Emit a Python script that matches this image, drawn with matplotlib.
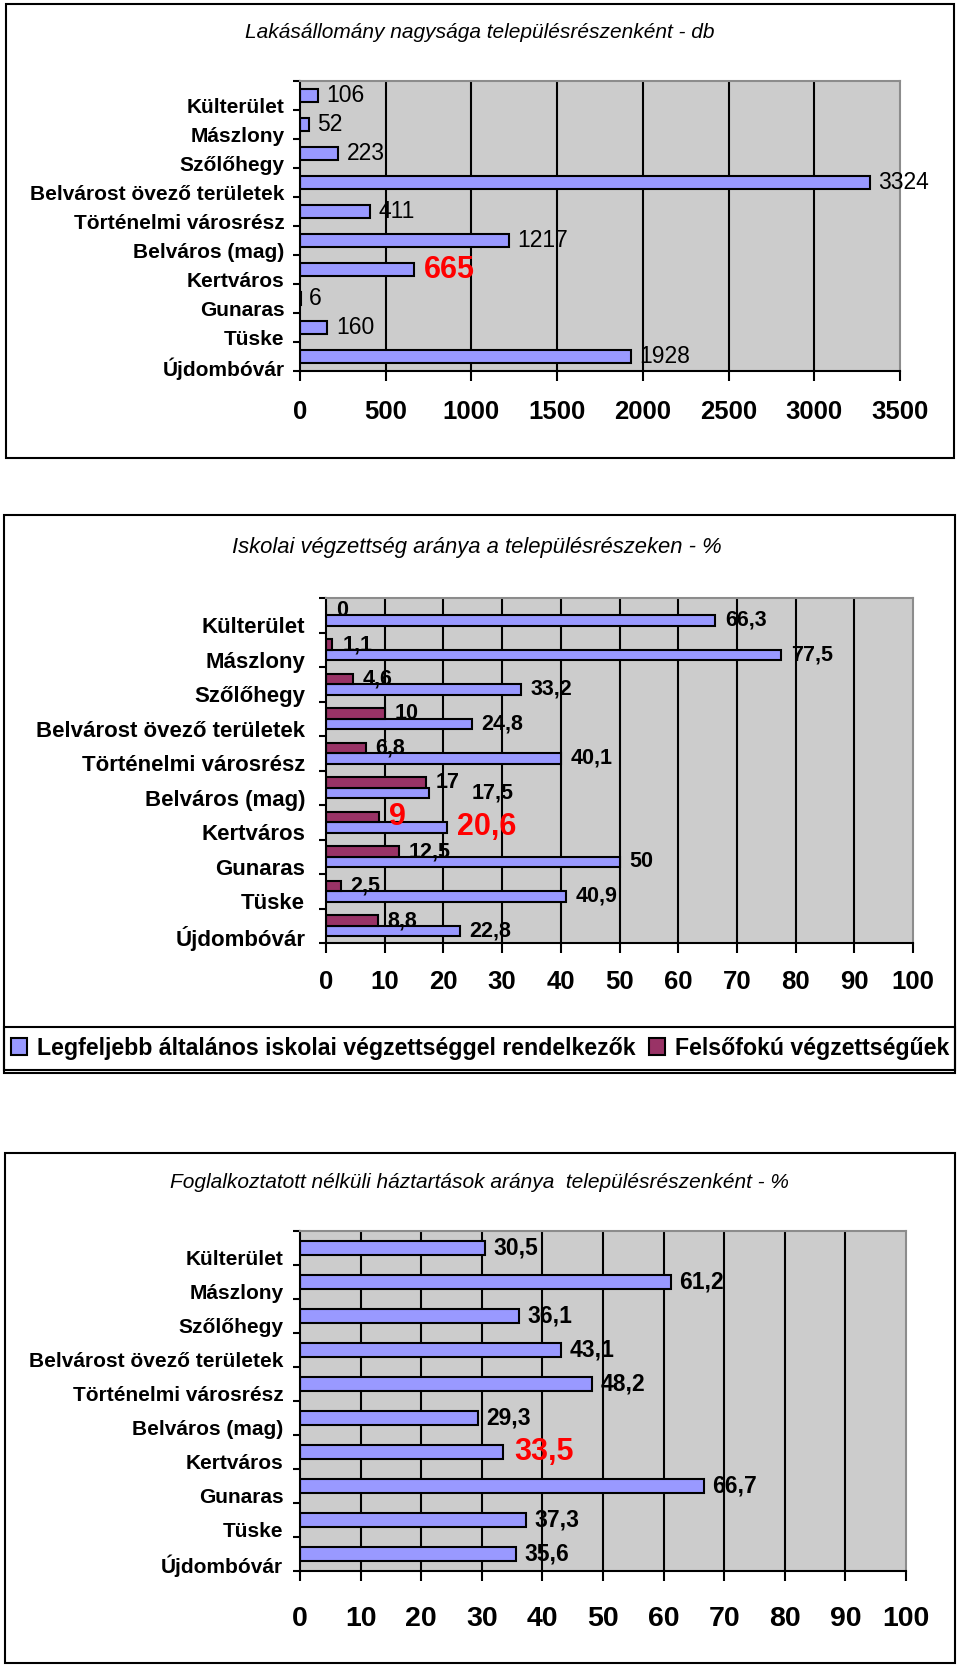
import numpy as np
import matplotlib
matplotlib.use("Agg")
import matplotlib.pyplot as plt
from matplotlib.patches import Rectangle

plt.rcParams['font.family'] = ['Liberation Sans', 'DejaVu Sans']

# adatok
telepulesreszek = ["Külterület", "Mászlony", "Szőlőhegy", "Belvárost övező területek",
                   "Történelmi városrész", "Belváros (mag)", "Kertváros", "Gunaras",
                   "Tüske", "Újdombóvár"]
lakas_db = [106, 52, 223, 3324, 411, 1217, 665, 6, 160, 1928]
altalanos_pct = [66.3, 77.5, 33.2, 24.8, 40.1, 17.5, 20.6, 50, 40.9, 22.8]
felsofoku_pct = [0, 1.1, 4.6, 10, 6.8, 17, 9, 12.5, 2.5, 8.8]
fogl_nelkuli_pct = [30.5, 61.2, 36.1, 43.1, 48.2, 29.3, 33.5, 66.7, 37.3, 35.6]
kiemelt = "Kertváros"

cim1 = "Lakásállomány nagysága településrészenként - db"
cim2 = "Iskolai végzettség aránya a településrészeken - %"
cim3 = "Foglalkoztatott nélküli háztartások aránya  településrészenként - %"
jelmagyarazat = ["Legfeljebb általános iskolai végzettséggel rendelkezők",
                 "Felsőfokú végzettségűek"]

KEK = '#9999ff'
BORDO = '#993366'
SZURKE = '#cccccc'

W, H = 960, 1670
fig = plt.figure(figsize=(W / 100, H / 100), dpi=100)
fig.patch.set_facecolor('white')


def px_ax(x0, y0, x1, y1):
    return fig.add_axes([x0 / W, 1 - y1 / H, (x1 - x0) / W, (y1 - y0) / H])


def keret(x0, y0, x1, y1, lw=1.5):
    fig.add_artist(Rectangle((x0 / W, 1 - y1 / H), (x1 - x0) / W, (y1 - y0) / H,
                             transform=fig.transFigure, fill=False, lw=lw, ec='black'))


def fmt(v):
    return f"{v:g}".replace('.', ',')


def alap(ax, xmax, step, tick_fs, tick_pad, lab_off, lab_pad, lab_fs):
    ax.set_facecolor(SZURKE)
    ax.set_xlim(0, xmax)
    ax.set_ylim(10, 0)
    ax.set_xticks(np.arange(0, xmax + 1, step))
    ax.grid(axis='x', color='black', lw=1.5)
    gl = ax.xaxis.get_gridlines()
    gl[0].set_visible(False)
    gl[-1].set_visible(False)
    ax.set_axisbelow(True)
    ax.tick_params(axis='x', direction='out', length=7, width=1.5,
                   labelsize=tick_fs, pad=tick_pad)
    for t in ax.get_xticklabels():
        t.set_fontweight('bold')
    ax.set_yticks(np.arange(10) + 0.5 + lab_off)
    ax.set_yticklabels(telepulesreszek, fontsize=lab_fs, fontweight='bold')
    ax.set_yticks(np.arange(11), minor=True)
    ax.tick_params(axis='y', which='major', length=0, pad=lab_pad)
    ax.tick_params(axis='y', which='minor', direction='out', length=5, width=1.5)
    for s in ['left', 'bottom']:
        ax.spines[s].set_color('black')
        ax.spines[s].set_linewidth(1.5)
    for s in ['top', 'right']:
        ax.spines[s].set_color('#8c8c8c')
        ax.spines[s].set_linewidth(1.5)


# 1. lakásállomány
keret(6, 4, 954, 458)
fig.text(480 / W, 1 - 32 / H, cim1, ha='center', va='center', style='italic', fontsize=15)
ax1 = px_ax(300, 81, 900, 371)
alap(ax1, 3500, 500, 18.5, 14, 0.34, 11, 15)
y = np.arange(10) + 0.5
ax1.barh(y, lakas_db, height=0.45, color=KEK, edgecolor='black', lw=1.5)
for i, v in enumerate(lakas_db):
    if telepulesreszek[i] == kiemelt:
        ax1.annotate(fmt(v), (v, y[i]), xytext=(7, 0), textcoords='offset points',
                     va='center', ha='left', fontsize=22, fontweight='bold', color='red')
    else:
        ax1.annotate(fmt(v), (v, y[i]), xytext=(6, 0), textcoords='offset points',
                     va='center', ha='left', fontsize=16.5)

# 2. iskolai végzettség
keret(4, 515, 955, 1073)
keret(4, 1027, 955, 1070)
fig.text(477 / W, 1 - 547 / H, cim2, ha='center', va='center', style='italic', fontsize=15.8)
ax2 = px_ax(326, 598, 913, 943)
alap(ax2, 100, 10, 18.5, 12.5, 0.29, 15, 16)
b1 = ax2.barh(y + 0.15, altalanos_pct, height=0.3, color=KEK, edgecolor='black', lw=1.5)
b2 = ax2.barh(y - 0.15, felsofoku_pct, height=0.3, color=BORDO, edgecolor='black', lw=1.5)
tolas = {"Belváros (mag)": 24}
for i in range(10):
    red = telepulesreszek[i] == kiemelt
    kw = dict(fontsize=22, fontweight='bold', color='red') if red else dict(fontsize=15.5, fontweight='bold')
    ax2.annotate(fmt(altalanos_pct[i]), (altalanos_pct[i], y[i] + 0.15),
                 xytext=(7 + tolas.get(telepulesreszek[i], 0), 0), textcoords='offset points',
                 va='center', ha='left', **kw)
    ax2.annotate(fmt(felsofoku_pct[i]), (felsofoku_pct[i], y[i] - 0.15),
                 xytext=(7, 0), textcoords='offset points', va='center', ha='left', **kw)
fig.legend([b1, b2], jelmagyarazat, loc='center', bbox_to_anchor=(480 / W, 1 - 1048 / H),
           ncol=2, frameon=False, prop={'weight': 'bold', 'size': 16.7},
           handlelength=0.7, handleheight=0.7, handletextpad=0.4, columnspacing=0.6)

# 3. foglalkoztatott nélküli háztartások
keret(5, 1153, 955, 1663)
fig.text(479 / W, 1 - 1183 / H, cim3, ha='center', va='center', style='italic', fontsize=15)
ax3 = px_ax(300, 1231, 906, 1571)
alap(ax3, 100, 10, 20.5, 18.5, 0.29, 12, 15)
ax3.barh(y, fogl_nelkuli_pct, height=0.39, color=KEK, edgecolor='black', lw=1.5)
for i, v in enumerate(fogl_nelkuli_pct):
    if telepulesreszek[i] == kiemelt:
        ax3.annotate(fmt(v), (v, y[i]), xytext=(8, 0), textcoords='offset points',
                     va='center', ha='left', fontsize=22, fontweight='bold', color='red')
    else:
        ax3.annotate(fmt(v), (v, y[i]), xytext=(6, 0), textcoords='offset points',
                     va='center', ha='left', fontsize=16.5, fontweight='bold')

fig.savefig("out.png", dpi=100)
